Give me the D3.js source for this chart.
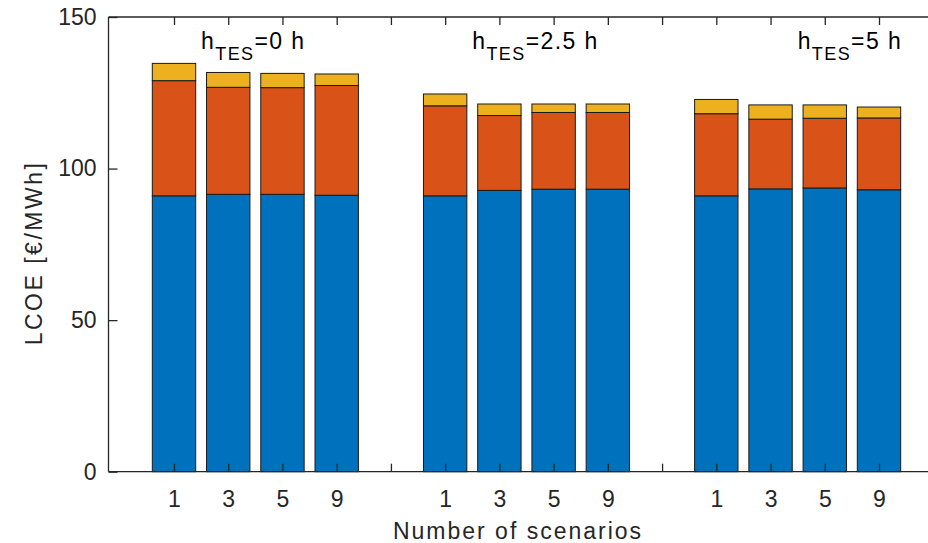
<!DOCTYPE html>
<html>
<head>
<meta charset="utf-8">
<script src="https://cdn.jsdelivr.net/npm/d3@7"></script>
<style>
  html, body { margin: 0; padding: 0; background: #fff; }
  svg { display: block; font-family: "Liberation Sans", Arial, Helvetica, sans-serif; }
</style>
</head>
<body>
<svg id="chart" width="928" height="543"></svg>
<script>
// ---- data ----
const positions = [1,2,3,4,5,6,7,8,9,10,11,12,13,14];
const tickLabels = ["1","3","5","9","","1","3","5","9","","1","3","5","9"];
const seriesNames = ["base", "mid", "top"];
const baseVals = [91.0, 91.5, 91.5, 91.2, 0, 91.0, 92.8, 93.2, 93.2, 0, 91.0, 93.3, 93.6, 93.0];
const midVals  = [38.0, 35.3, 35.2, 36.2, 0, 29.7, 24.7, 25.3, 25.3, 0, 27.1, 23.0, 23.0, 23.7];
const topVals  = [5.7, 4.9, 4.7, 3.8, 0, 3.9, 3.8, 2.8, 2.8, 0, 4.7, 4.7, 4.4, 3.6];
const groupLabels = ["0 h", "2.5 h", "5 h"];
const groupLabelX = [1.5, 6.5, 12.5];
const groupLabelY = 139.6;
const yTicks = [0, 50, 100, 150];
const xLabel = "Number of scenarios";
const yLabel = "LCOE [€/MWh]";

// ---- layout ----
const colors = ["#0072BD", "#D95319", "#EDB120"];
const axisColor = "#262626";
const L = 108.5, T = 17, B = 471.7, R = 935;
const svg = d3.select("#chart");

const x = d3.scaleLinear().domain([1, 14]).range([174, 879]);
const y = d3.scaleLinear().domain([0, 150]).range([B, T]);
const bw = (x(2) - x(1)) * 0.8;

const table = positions.map((p, i) => ({pos: p, base: baseVals[i], mid: midVals[i], top: topVals[i]}));
const stacked = d3.stack().keys(seriesNames)(table);

const g = svg.append("g");
stacked.forEach((s, si) => {
  g.selectAll(null).data(s).enter().append("rect")
    .attr("x", d => x(d.data.pos) - bw / 2)
    .attr("width", bw)
    .attr("y", d => y(d[1]))
    .attr("height", d => Math.max(0, y(d[0]) - y(d[1])))
    .attr("fill", colors[si])
    .attr("stroke", d => (d[1] - d[0]) === 0 ? "#bbb" : "#1a1a1a")
    .attr("stroke-width", 1);
});

// axes lines
svg.append("line").attr("x1", L).attr("x2", R).attr("y1", B).attr("y2", B)
  .attr("stroke", axisColor).attr("stroke-width", 1.3);
svg.append("line").attr("x1", L).attr("x2", R).attr("y1", T).attr("y2", T)
  .attr("stroke", axisColor).attr("stroke-width", 1.3);
svg.append("line").attr("x1", L).attr("x2", L).attr("y1", T).attr("y2", B)
  .attr("stroke", axisColor).attr("stroke-width", 1.3);

// x ticks
const xAxisB = d3.axisBottom(x).tickValues(positions)
  .tickFormat((d, i) => tickLabels[i]).tickSizeInner(-8).tickSizeOuter(0).tickPadding(18.5);
const gxb = svg.append("g").attr("transform", `translate(0,${B})`).call(xAxisB);
gxb.select(".domain").remove();
gxb.selectAll(".tick line").attr("stroke", axisColor).attr("stroke-width", 1.3);
gxb.selectAll(".tick text").attr("fill", axisColor).attr("font-size", 23)
  .attr("font-family", "Liberation Sans, Arial, sans-serif");

const xAxisT = d3.axisTop(x).tickValues(positions).tickFormat("").tickSizeInner(-8).tickSizeOuter(0);
const gxt = svg.append("g").attr("transform", `translate(0,${T})`).call(xAxisT);
gxt.select(".domain").remove();
gxt.selectAll(".tick line").attr("stroke", axisColor).attr("stroke-width", 1.3);

// y ticks
const yAxis = d3.axisLeft(y).tickValues(yTicks).tickSizeInner(-9).tickSizeOuter(0).tickPadding(12);
const gy = svg.append("g").attr("transform", `translate(${L},0)`).call(yAxis);
gy.select(".domain").remove();
gy.selectAll(".tick line").attr("stroke", axisColor).attr("stroke-width", 1.3);
gy.selectAll(".tick text").attr("fill", axisColor).attr("font-size", 23)
  .attr("font-family", "Liberation Sans, Arial, sans-serif");

// axis labels
svg.append("text").attr("x", 518).attr("y", 539).attr("text-anchor", "middle")
  .attr("font-size", 23).attr("letter-spacing", 2.0).attr("fill", axisColor).text(xLabel);
svg.append("text").attr("transform", `translate(42,${253}) rotate(-90)`).attr("text-anchor", "middle")
  .attr("font-size", 23).attr("letter-spacing", 2.5).attr("fill", axisColor).text(yLabel);

// group annotations
groupLabels.forEach((lab, i) => {
  const t = svg.append("text").attr("x", x(groupLabelX[i])).attr("y", y(groupLabelY))
    .attr("font-size", 23).attr("letter-spacing", 1.4).attr("fill", "#000");
  t.append("tspan").text("h");
  t.append("tspan").attr("font-size", 18).attr("dy", 11).text("TES");
  t.append("tspan").attr("dy", -11).text("=" + lab);
});
</script>
</body>
</html>
